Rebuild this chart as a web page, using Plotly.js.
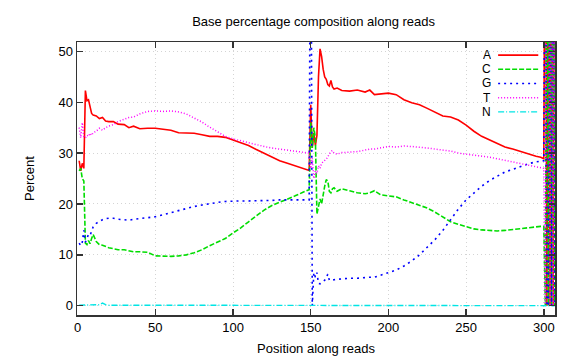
<!DOCTYPE html>
<html><head><meta charset="utf-8">
<script src="https://cdn.plot.ly/plotly-3.0.1.min.js"></script>
<style>html,body{margin:0;padding:0;background:#fff}#chart{width:576px;height:360px}</style>
</head><body><div id="chart"></div>
<script>
// Position along reads
const pos = [1,2,3,4,5,6,7,8,9,10,12,14,16,18,20,23,26,30,33,36,40,
  45,50,55,60,65,70,75,80,85,90,95,100,105,110,115,120,125,130,135,140,145,
  148,149,150,151,152,153,154,155,156,157,158,159,160,161,162,163,164,165,
  167,170,175,180,185,188,191,
  195,200,205,210,215,220,225,230,235,240,245,250,255,260,265,270,275,280,285,290,295,
  298,299,300,301,302,303,304,305,306,307];

const A = [28.5,26.5,28,27,42.3,40.3,40.5,38.8,37.8,37.5,37.3,36.8,37.0,36.3,36.2,36.2,35.7,35.6,35.0,35.3,34.8,
  34.9,34.9,34.7,34.5,34.0,33.9,33.9,33.6,33.3,33.3,33.1,32.6,32.1,31.5,30.7,30.0,29.2,28.5,28.0,27.5,27.0,
  26.7,26.6,39.5,31,34,31.5,33.5,45,50.5,49,46.5,45,44.5,43.5,43.2,44.3,43.0,42.6,
  42.8,42.3,42.2,42.4,42.0,42.4,41.5,
  41.6,41.8,41.5,40.5,39.9,39.5,38.8,38.0,37.3,37.1,36.5,35.5,34.3,33.3,32.6,32.0,31.2,30.8,30.3,29.8,29.4,
  29.2,29.1,28.9,100,0,100,0,100,0,100];

const C = [26.5,27,25,24.5,12.3,12,12.8,12.2,13.2,14,12.6,12.0,11.9,11.6,11.4,11.2,11.0,11.0,10.8,10.6,10.6,
  10.5,9.8,9.7,9.7,9.8,10.0,10.4,11.0,11.8,12.5,13.2,14.3,15.3,16.5,17.7,18.8,19.7,20.3,20.9,21.6,22.3,
  22.7,22.8,36,31,35,33,18,19.5,21,20,22,23.5,24.8,24.5,22.5,22.2,23.0,23.2,
  22.5,23.0,22.6,22.2,22.0,22.2,22.6,
  21.8,21.6,21.4,20.8,20.3,19.8,19.2,18.4,17.5,16.5,16.0,15.6,15.1,14.9,14.8,14.7,14.8,15.0,15.2,15.4,15.5,
  15.6,15.6,15.6,0,100,0,100,0,100,0];

const G = [12.3,11.8,12.5,14.8,12.5,13.5,14,13.8,14.5,15.5,16.2,16.6,16.9,17.1,17.2,17.2,17.0,16.9,16.8,17.0,17.1,
  17.3,17.5,17.9,18.3,18.8,19.2,19.5,19.8,20.1,20.3,20.5,20.6,20.6,20.6,20.6,20.6,20.7,20.8,20.8,20.9,20.9,
  20.9,20.8,100,0,6.5,5.6,6.5,4.4,4.3,4.5,4.8,5.0,5.5,6.2,5.0,5.0,5.1,5.1,
  5.2,5.3,5.4,5.4,5.6,5.6,5.6,
  6.0,6.5,7.0,7.8,8.8,10.0,11.5,13.0,14.8,17.0,19.0,20.8,22.2,23.5,24.6,25.5,26.3,26.8,27.4,27.9,28.3,
  28.5,28.5,28.5,100,0,0,100,0,100,0];

const T = [35,33,36,33.2,33,33.5,33.3,33.9,33.5,34,34.3,34.9,34.5,35.0,35.3,35.6,36.2,36.7,37.0,37.1,37.7,
  38.2,38.3,38.2,38.3,38.1,37.7,36.9,36.1,35.1,34.2,33.3,32.8,32.4,32.0,31.6,31.3,31.0,30.8,30.6,30.4,30.2,
  30.0,30.0,27,29,25,26.5,26,27.5,27,28,28.3,28.5,28.8,29.3,29.8,30.3,30.5,30.0,
  29.8,30.1,30.2,30.3,30.6,30.8,30.8,
  31.0,31.3,31.2,31.4,31.3,31.2,31.0,30.8,30.6,30.4,30.0,29.8,29.7,29.5,29.2,28.9,28.6,28.3,28.0,27.6,27.3,
  27.2,27.1,27.0,0,100,100,0,100,0,100];

const N = [0.1,0.1,0.1,0.1,0.1,0.1,0.1,0.1,0.1,0.1,0.1,0.2,0.5,0.2,0.1,0.1,0.1,0.1,0.1,0.1,0.1,
  0.1,0.1,0.1,0.1,0.1,0.1,0.1,0.1,0.1,0.1,0.1,0.1,0.1,0.1,0.1,0.1,0.1,0.1,0.1,0.1,0.1,
  0.1,0.1,0,0.1,0.1,0.1,0.1,0.1,0.1,0.1,0.1,0.1,0.1,0.1,0.1,0.1,0.1,0.1,
  0.1,0.1,0.1,0.1,0.1,0.1,0.1,
  0.1,0.1,0.1,0.1,0.1,0.1,0.1,0.1,0.1,0.1,0.1,0.1,0.1,0.1,0.1,0.1,0.1,0.1,0.1,0.1,0.1,
  0.1,0.1,0.1,0,0,0,0,0,0,0];

const bases = ['A','C','G','T','N'];
const series = [A, C, G, T, N];
const colors = ['#ff0000','#00dd00','#0000ff','#ff00ff','#00e5e5'];
const dashes = ['solid','5px,2px','2px,4px','1px,2px','6px,2px,1px,2px'];
const widths = [1.6,1.6,1.6,1.5,1.4];

const FONT = 'Liberation Sans, Arial, Helvetica, sans-serif';

const traces = series.map((ys, i) => ({
  type: 'scatter', mode: 'lines', name: bases[i],
  x: pos, y: ys,
  line: {color: colors[i], width: widths[i], dash: dashes[i]},
  showlegend: false
}));

// custom gnuplot-style key (label left, sample right)
const keyTop = 0.952, keyStep = 0.052;
const annotations = bases.map((b, i) => ({
  xref: 'paper', yref: 'paper', x: 0.868, y: keyTop - i*keyStep,
  xanchor: 'right', yanchor: 'middle', text: b, showarrow: false,
  height: 12, borderpad: 0, valign: 'middle',
  font: {family: FONT, size: 12, color: '#000'}
}));
const shapes = bases.map((b, i) => ({
  type: 'line', xref: 'paper', yref: 'paper',
  x0: 0.881, x1: 0.965, y0: keyTop - i*keyStep, y1: keyTop - i*keyStep,
  line: {color: colors[i], width: widths[i], dash: dashes[i]}
}));

const axisCommon = {
  showline: true, mirror: 'ticks', linecolor: '#333', linewidth: 1.5,
  ticks: 'inside', ticklen: 6, tickwidth: 1.5, tickcolor: '#333',
  showgrid: true, gridcolor: '#d4d4d4', griddash: '1px,3px', gridwidth: 1,
  zeroline: false, tickfont: {family: FONT, size: 13, color: '#000'}
};

const layout = {
  width: 576, height: 360,
  margin: {l: 77, r: 21, t: 42, b: 45},
  paper_bgcolor: '#fff', plot_bgcolor: '#fff',
  title: {text: 'Base percentage composition along reads', font: {family: FONT, size: 13, color: '#000'},
          xref: 'paper', x: 0.495, xanchor: 'center', yref: 'container', y: 0.94, yanchor: 'middle'},
  xaxis: Object.assign({}, axisCommon, {
    range: [-0.4, 307.2], dtick: 50, tick0: 0,
    title: {text: 'Position along reads', font: {family: FONT, size: 13, color: '#000'}, standoff: 10}
  }),
  yaxis: Object.assign({}, axisCommon, {
    range: [-1.83, 51.85], dtick: 10, tick0: 0,
    title: {text: 'Percent', font: {family: FONT, size: 13, color: '#000'}, standoff: 21}
  }),
  annotations: annotations,
  shapes: shapes,
  showlegend: false
};

Plotly.newPlot('chart', traces, layout, {staticPlot: true, displayModeBar: false});
</script>
</body></html>
